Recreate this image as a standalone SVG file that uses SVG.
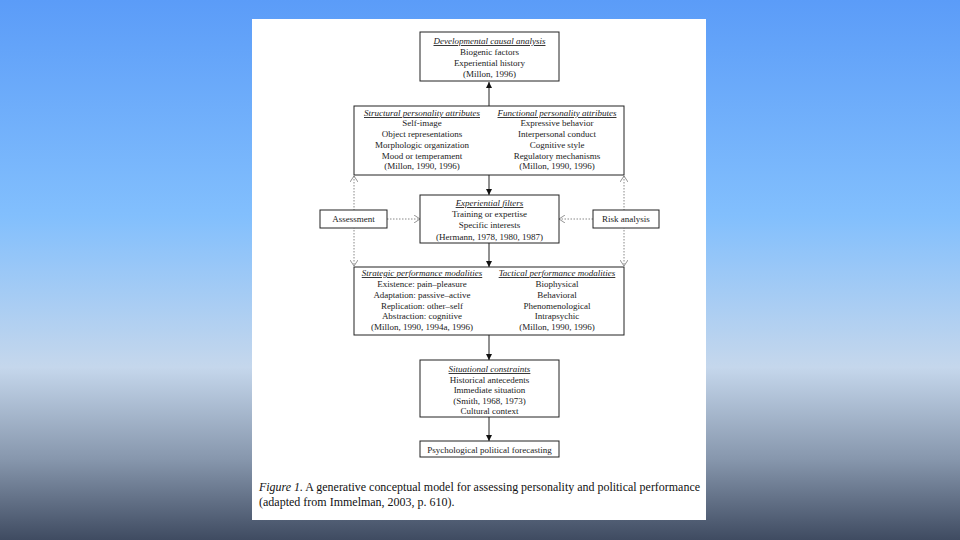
<svg xmlns="http://www.w3.org/2000/svg" width="960" height="540" viewBox="0 0 960 540">
<defs>
<linearGradient id="bg" x1="0" y1="0" x2="0" y2="1">
<stop offset="0" stop-color="#5b9cf8"/>
<stop offset="0.4" stop-color="#82bffd"/>
<stop offset="0.68" stop-color="#c5d7ec"/>
<stop offset="0.85" stop-color="#8797ad"/>
<stop offset="1" stop-color="#3f4b61"/>
</linearGradient>
<marker id="fill" markerWidth="6" markerHeight="6" refX="6" refY="3" orient="auto" markerUnits="userSpaceOnUse">
<path d="M0,0 L6,3 L0,6 Z" fill="#111"/>
</marker>
<marker id="open" markerWidth="7" markerHeight="8" refX="6" refY="4" orient="auto" markerUnits="userSpaceOnUse">
<path d="M0,0 L6,4 L0,8" fill="none" stroke="#777" stroke-width="0.8"/>
</marker>
<marker id="openS" markerWidth="7" markerHeight="8" refX="6" refY="4" orient="auto-start-reverse" markerUnits="userSpaceOnUse">
<path d="M0,0 L6,4 L0,8" fill="none" stroke="#777" stroke-width="0.8"/>
</marker>
</defs>
<style>
.box{fill:#fff;stroke:#222;stroke-width:1}
text{font-family:"Liberation Serif","Times New Roman",serif;font-size:9px;fill:#222;text-anchor:middle}
.t{font-style:italic;text-decoration:underline}
.solid{stroke:#222;stroke-width:1;fill:none}
.dot{stroke:#888;stroke-width:1;stroke-dasharray:1.5 1.5;fill:none}
.cap{font-size:12px;text-anchor:start;fill:#111}
</style>
<rect x="0" y="0" width="960" height="540" fill="url(#bg)"/>
<rect x="252" y="19" width="454" height="501" fill="#fff"/>

<g id="connectors">
<line class="solid" x1="489" y1="106" x2="489" y2="82" marker-end="url(#fill)"/>
<line class="solid" x1="489" y1="175" x2="489" y2="195" marker-end="url(#fill)"/>
<line class="solid" x1="489" y1="243" x2="489" y2="267" marker-end="url(#fill)"/>
<line class="solid" x1="489" y1="335" x2="489" y2="360" marker-end="url(#fill)"/>
<line class="solid" x1="489" y1="417" x2="489" y2="441" marker-end="url(#fill)"/>
<line class="dot" x1="387" y1="219" x2="420" y2="219" marker-end="url(#open)"/>
<line class="dot" x1="593" y1="219" x2="559" y2="219" marker-end="url(#open)"/>
<line class="dot" x1="354" y1="176" x2="354" y2="266" marker-start="url(#openS)" marker-end="url(#openS)"/>
<line class="dot" x1="624" y1="176" x2="624" y2="266" marker-start="url(#openS)" marker-end="url(#openS)"/>
</g>

<g id="developmental">
<rect class="box" x="420" y="32" width="139" height="49"/>
<text class="t" x="489.5" y="44">Developmental causal analysis</text>
<text x="489.5" y="55">Biogenic factors</text>
<text x="489.5" y="66">Experiential history</text>
<text x="489.5" y="77">(Millon, 1996)</text>
</g>

<g id="personality">
<rect class="box" x="354" y="106" width="270" height="69"/>
<text class="t" x="422" y="116">Structural personality attributes</text>
<text x="422" y="126">Self-image</text>
<text x="422" y="137">Object representations</text>
<text x="422" y="148">Morphologic organization</text>
<text x="422" y="159">Mood or temperament</text>
<text x="422" y="169">(Millon, 1990, 1996)</text>
<text class="t" x="557" y="116">Functional personality attributes</text>
<text x="557" y="126">Expressive behavior</text>
<text x="557" y="137">Interpersonal conduct</text>
<text x="557" y="148">Cognitive style</text>
<text x="557" y="159">Regulatory mechanisms</text>
<text x="557" y="169">(Millon, 1990, 1996)</text>
</g>

<g id="assessment">
<rect class="box" x="320" y="210" width="67" height="18"/>
<text x="353.5" y="222">Assessment</text>
</g>

<g id="risk">
<rect class="box" x="593" y="210" width="66" height="18"/>
<text x="626" y="222">Risk analysis</text>
</g>

<g id="filters">
<rect class="box" x="420" y="195" width="139" height="48"/>
<text class="t" x="489.5" y="206">Experiential filters</text>
<text x="489.5" y="217">Training or expertise</text>
<text x="489.5" y="228">Specific interests</text>
<text x="489.5" y="240">(Hermann, 1978, 1980, 1987)</text>
</g>

<g id="performance">
<rect class="box" x="354" y="267" width="270" height="68"/>
<text class="t" x="422" y="276">Strategic performance modalities</text>
<text x="422" y="287">Existence: pain–pleasure</text>
<text x="422" y="298">Adaptation: passive–active</text>
<text x="422" y="309">Replication: other–self</text>
<text x="422" y="319">Abstraction: cognitive</text>
<text x="422" y="330">(Millon, 1990, 1994a, 1996)</text>
<text class="t" x="557" y="276">Tactical performance modalities</text>
<text x="557" y="287">Biophysical</text>
<text x="557" y="298">Behavioral</text>
<text x="557" y="309">Phenomenological</text>
<text x="557" y="319">Intrapsychic</text>
<text x="557" y="330">(Millon, 1990, 1996)</text>
</g>

<g id="situational">
<rect class="box" x="420" y="360" width="139" height="57"/>
<text class="t" x="489.5" y="372">Situational constraints</text>
<text x="489.5" y="383">Historical antecedents</text>
<text x="489.5" y="393">Immediate situation</text>
<text x="489.5" y="404">(Smith, 1968, 1973)</text>
<text x="489.5" y="414">Cultural context</text>
</g>

<g id="forecasting">
<rect class="box" x="420" y="441" width="139" height="16"/>
<text x="489.5" y="452.5">Psychological political forecasting</text>
</g>

<text class="cap" x="259" y="491" textLength="441" lengthAdjust="spacingAndGlyphs" style="font-family:'Liberation Serif',serif"><tspan font-style="italic">Figure 1.</tspan>  A generative conceptual model for assessing personality and political performance</text>
<text class="cap" x="259" y="506" style="font-family:'Liberation Serif',serif">(adapted from Immelman, 2003, p. 610).</text>
</svg>
